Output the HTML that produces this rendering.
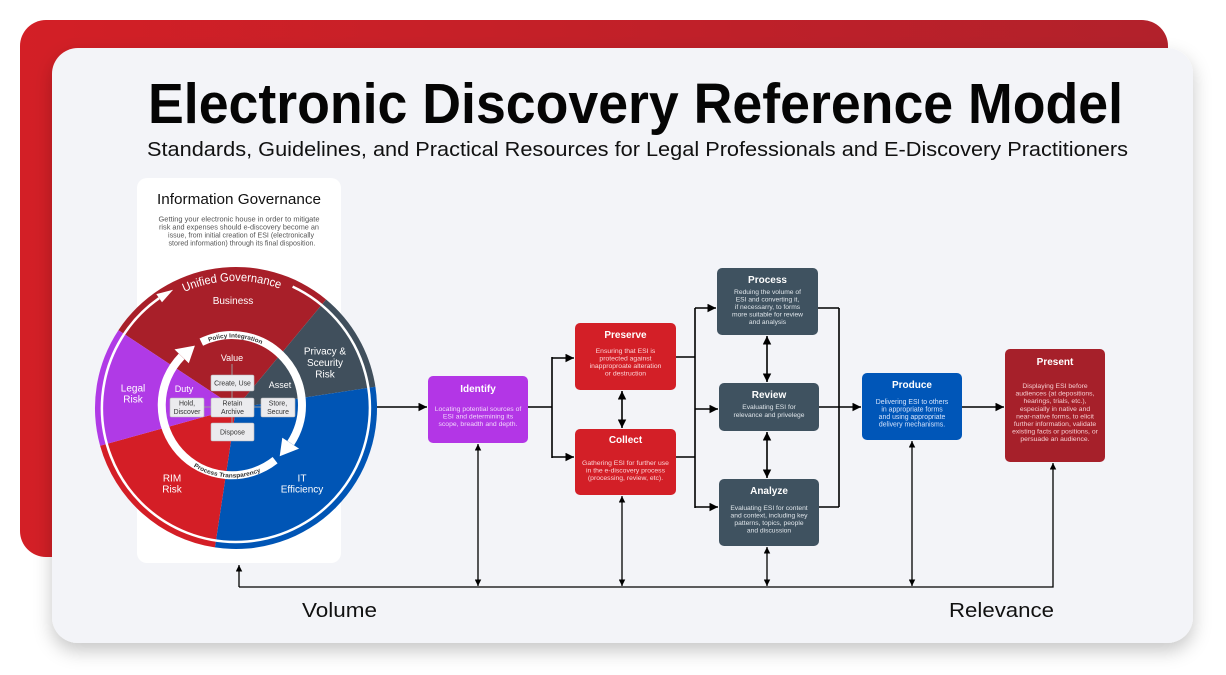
<!DOCTYPE html>
<html><head><meta charset="utf-8"><style>
html,body{margin:0;padding:0;background:#fff;}
svg{display:block;font-family:"Liberation Sans",Arial,sans-serif;}
</style></head><body>
<svg width="1226" height="675" viewBox="0 0 1226 675" xmlns="http://www.w3.org/2000/svg">
<defs>
<linearGradient id="rg" x1="0" y1="0" x2="1" y2="0">
<stop offset="0" stop-color="#d31f26"/><stop offset="1" stop-color="#b2212b"/>
</linearGradient>
<filter id="sh" x="-10%" y="-10%" width="120%" height="130%">
<feDropShadow dx="0" dy="8" stdDeviation="9" flood-color="#000" flood-opacity="0.22"/>
</filter>
<marker id="ah" viewBox="0 0 10 10" refX="10" refY="5" markerWidth="8.5" markerHeight="8.5" markerUnits="userSpaceOnUse" orient="auto-start-reverse">
<path d="M0,0 L10,5 L0,10 Z" fill="#000"/>
</marker>
<marker id="ah2" viewBox="0 0 10 10" refX="10" refY="5" markerWidth="6.5" markerHeight="6.5" markerUnits="userSpaceOnUse" orient="auto-start-reverse">
<path d="M0,0 L10,5 L0,10 Z" fill="#000"/>
</marker>
<path id="ugp" d="M184.3,292.0 A127 127 0 0 1 281.5,289.4"/>
<path id="pip" d="M208.9,341.6 A67.5 67.5 0 0 1 263.7,345.4"/>
<path id="ptp" d="M193.6,466.5 A72.5 72.5 0 0 0 270.4,466.5"/>
</defs>

<!-- frame -->
<rect x="20" y="20" width="1148" height="537" rx="26" fill="url(#rg)"/>
<rect x="52" y="48" width="1141" height="595" rx="26" fill="#f3f4f8" filter="url(#sh)"/>

<!-- title -->
<text x="148" y="123" font-size="57" font-weight="bold" fill="#050505" textLength="975" lengthAdjust="spacingAndGlyphs">Electronic Discovery Reference Model</text>
<text x="147" y="156" font-size="20" fill="#111" textLength="981" lengthAdjust="spacingAndGlyphs">Standards, Guidelines, and Practical Resources for Legal Professionals and E-Discovery Practitioners</text>

<!-- left panel -->
<rect x="137" y="178" width="204" height="385" rx="10" fill="#ffffff"/>
<text x="157" y="204" font-size="15" fill="#111" textLength="164" lengthAdjust="spacingAndGlyphs">Information Governance</text>
<g font-size="7" fill="#555" text-anchor="middle">
<text x="239" y="221.5" textLength="161" lengthAdjust="spacingAndGlyphs">Getting your electronic house in order to mitigate</text>
<text x="239" y="229.5" textLength="160" lengthAdjust="spacingAndGlyphs">risk and expenses should e-discovery become an</text>
<text x="241" y="237.5" textLength="146" lengthAdjust="spacingAndGlyphs">issue, from initial creation of ESI (electronically</text>
<text x="242" y="245.5" textLength="147" lengthAdjust="spacingAndGlyphs">stored information) through its final disposition.</text>
</g>

<!-- pie -->
<path d="M236,408 L118.4,330.2 A141 141 0 0 1 326.1,299.5 Z" fill="#a81f29"/>
<path d="M236,408 L326.1,299.5 A141 141 0 0 1 375.4,386.7 Z" fill="#404f5c"/>
<path d="M236,408 L375.4,386.7 A141 141 0 0 1 214.9,547.4 Z" fill="#0055b5"/>
<path d="M236,408 L214.9,547.4 A141 141 0 0 1 100.1,445.7 Z" fill="#d41e26"/>
<path d="M236,408 L100.1,445.7 A141 141 0 0 1 118.4,330.2 Z" fill="#b03ae6"/>

<!-- outer white arc -->
<path d="M292.6,286.6 A134 134 0 1 1 159.1,298.2" fill="none" stroke="#fff" stroke-width="2.5"/>
<path d="M162.0,302.3 L156.3,294.1 L173.1,289.7 Z" fill="#fff"/>
<text font-size="12" fill="#fff"><textPath href="#ugp" textLength="98" lengthAdjust="spacingAndGlyphs">Unified Governance</textPath></text>

<!-- inner ring -->
<path d="M275.1,460.2 A70 70 0 0 1 181.6,356.4" fill="none" stroke="#fff" stroke-width="8"/>
<path d="M201.3,342.1 A70 70 0 0 1 290.7,443.1" fill="none" stroke="#fff" stroke-width="8"/>
<path d="M188.8,363.3 L174.5,349.4 L194.9,345.6 Z" fill="#fff"/>
<path d="M282.3,437.7 L299.1,448.6 L279.7,456.2 Z" fill="#fff"/>
<text font-size="6" font-weight="bold" fill="#333"><textPath href="#pip" textLength="54" lengthAdjust="spacingAndGlyphs">Policy Integration</textPath></text>
<text font-size="6" font-weight="bold" fill="#333"><textPath href="#ptp" textLength="70" lengthAdjust="spacingAndGlyphs">Process Transparency</textPath></text>

<!-- pie labels -->
<g fill="#fff" text-anchor="middle" font-size="10">
<text x="233" y="304">Business</text>
<text x="133" y="391.5">Legal</text>
<text x="133" y="402.5">Risk</text>
<text x="325" y="354.5">Privacy &amp;</text>
<text x="325" y="366">Sceurity</text>
<text x="325" y="377.5">Risk</text>
<text x="172" y="481.5">RIM</text>
<text x="172" y="492.5">Risk</text>
<text x="302" y="481.5">IT</text>
<text x="302" y="492.5">Efficiency</text>
<text x="232" y="361" font-size="9">Value</text>
<text x="184" y="392" font-size="9">Duty</text>
<text x="280" y="388" font-size="9">Asset</text>
</g>

<!-- inner boxes -->
<g stroke="#9a9a9a" stroke-width="1" fill="none">
<path d="M232,364 V375 M232,391 V398 M232,417 V423 M204,407 H211 M254,407 H261"/>
</g>
<g fill="#ebebee" stroke="#b9b9bd" stroke-width="0.6">
<rect x="211" y="375" width="43" height="16" rx="1.5"/>
<rect x="211" y="398" width="43" height="19" rx="1.5"/>
<rect x="170" y="398" width="34" height="19" rx="1.5"/>
<rect x="261" y="398" width="34" height="19" rx="1.5"/>
<rect x="211" y="423" width="43" height="18" rx="1.5"/>
</g>
<g fill="#333" font-size="6.9" text-anchor="middle">
<text x="232.5" y="385.5">Create, Use</text>
<text x="232.5" y="405.5">Retain</text>
<text x="232.5" y="413.8">Archive</text>
<text x="187" y="405.5">Hold,</text>
<text x="187" y="413.8">Discover</text>
<text x="278" y="405.5">Store,</text>
<text x="278" y="413.8">Secure</text>
<text x="232.5" y="434.5">Dispose</text>
</g>

<!-- main boxes -->
<rect x="428" y="376" width="100" height="67" rx="5" fill="#b336e6"/>
<rect x="575" y="323" width="101" height="67" rx="5" fill="#d31f27"/>
<rect x="575" y="429" width="101" height="66" rx="5" fill="#d31f27"/>
<rect x="717" y="268" width="101" height="67" rx="5" fill="#3f5260"/>
<rect x="719" y="383" width="100" height="48" rx="5" fill="#3f5260"/>
<rect x="719" y="479" width="100" height="67" rx="5" fill="#3f5260"/>
<rect x="862" y="373" width="100" height="67" rx="5" fill="#0056b8"/>
<rect x="1005" y="349" width="100" height="113" rx="5" fill="#a6202a"/>

<g fill="#fff" font-weight="bold" font-size="10" text-anchor="middle">
<text x="478" y="392">Identify</text>
<text x="625.5" y="338">Preserve</text>
<text x="625.5" y="443">Collect</text>
<text x="767.5" y="283">Process</text>
<text x="769" y="398">Review</text>
<text x="769" y="494">Analyze</text>
<text x="912" y="388">Produce</text>
<text x="1055" y="365">Present</text>
</g>

<g font-size="6.8" text-anchor="middle">
<g fill="#f1d6fb">
<text x="478" y="411">Locating potential sources of</text>
<text x="478" y="418.5">ESI and determining its</text>
<text x="478" y="426">scope, breadth and depth.</text>
</g>
<g fill="#fbd3d5">
<text x="625.5" y="353">Ensuring that ESI is</text>
<text x="625.5" y="360.5">protected against</text>
<text x="625.5" y="368">inapproproate alteration</text>
<text x="625.5" y="375.5">or destruction</text>
<text x="625.5" y="465">Gathering ESI for further use</text>
<text x="625.5" y="472.5">in the e-discovery process</text>
<text x="625.5" y="480">(processing, review, etc).</text>
</g>
<g fill="#dfe5ea" font-size="6.7">
<text x="767.5" y="294">Reduing the volume of</text>
<text x="767.5" y="301.5">ESI and converting it,</text>
<text x="767.5" y="309">if necessarry, to forms</text>
<text x="767.5" y="316.5">more suitable for review</text>
<text x="767.5" y="324">and analysis</text>
<text x="769" y="409">Evaluating ESI  for</text>
<text x="769" y="417">relevance  and privelege</text>
<text x="769" y="510">Evaluating ESI for content</text>
<text x="769" y="517.5">and context, including key</text>
<text x="769" y="525">patterns, topics, people</text>
<text x="769" y="532.5">and discussion</text>
</g>
<g fill="#d3e2fb" font-size="6.9">
<text x="912" y="404">Delivering ESI to others</text>
<text x="912" y="411.5">in appropriate forms</text>
<text x="912" y="419">and using appropriate</text>
<text x="912" y="426.5">delivery mechanisms.</text>
</g>
<g fill="#f5cdd0" font-size="6.8">
<text x="1055" y="388">Displaying ESI before</text>
<text x="1055" y="395.6">audiences (at depositions,</text>
<text x="1055" y="403.2">hearings, trials, etc.),</text>
<text x="1055" y="410.8">especially in native and</text>
<text x="1055" y="418.4">near-native forms, to elicit</text>
<text x="1055" y="426">further information, validate</text>
<text x="1055" y="433.6">existing facts or positions, or</text>
<text x="1055" y="441.2">persuade an audience.</text>
</g>
</g>

<!-- connectors -->
<g stroke="#000" stroke-width="1.6" fill="none">
<path d="M377,407 H427" marker-end="url(#ah)"/>
<path d="M528,407 H552 M552,357 V458 M676,357 H695 M676,457 H695 M695,308 V508 M818,308 H839 M819,507 H839 M839,308 V507"/>
<path d="M552,358 H574" marker-end="url(#ah)"/>
<path d="M552,457 H574" marker-end="url(#ah)"/>
<path d="M622,391 V428" marker-start="url(#ah)" marker-end="url(#ah)"/>
<path d="M695,308 H716" marker-end="url(#ah)"/>
<path d="M695,409 H718" marker-end="url(#ah)"/>
<path d="M695,507 H718" marker-end="url(#ah)"/>
<path d="M767,336 V382" marker-start="url(#ah)" marker-end="url(#ah)"/>
<path d="M767,432 V478" marker-start="url(#ah)" marker-end="url(#ah)"/>
<path d="M819,407 H861" marker-end="url(#ah)"/>
<path d="M962,407 H1004" marker-end="url(#ah)"/>
</g>
<g stroke="#000" stroke-width="1.3" fill="none">
<path d="M239,587 V565" marker-end="url(#ah2)"/>
<path d="M239,587 H1053 V463" marker-end="url(#ah2)"/>
<path d="M478,444 V586" marker-start="url(#ah2)" marker-end="url(#ah2)"/>
<path d="M622,496 V586" marker-start="url(#ah2)" marker-end="url(#ah2)"/>
<path d="M767,547 V586" marker-start="url(#ah2)" marker-end="url(#ah2)"/>
<path d="M912,441 V586" marker-start="url(#ah2)" marker-end="url(#ah2)"/>
</g>

<text x="302" y="617" font-size="20" fill="#111" textLength="75" lengthAdjust="spacingAndGlyphs">Volume</text>
<text x="949" y="617" font-size="20" fill="#111" textLength="105" lengthAdjust="spacingAndGlyphs">Relevance</text>
</svg>
</body></html>
